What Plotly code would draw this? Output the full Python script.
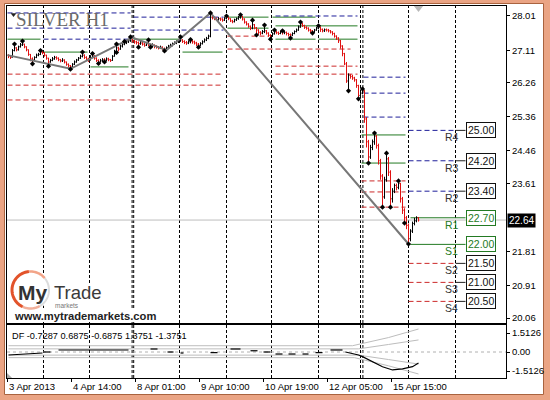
import math
import plotly.graph_objects as go

# ---------------- data ----------------
first_open = 26.98
closes = [
    26.96, 26.92, 27.10, 27.17, 27.12, 27.20, 27.25, 27.27, 27.20, 27.12,
    27.00, 26.88, 26.85, 26.92, 26.98, 27.00, 27.06, 27.04, 26.98, 26.90,
    26.80, 26.84, 26.88, 26.92, 26.90, 26.86, 26.83, 26.85, 26.80, 26.74,
    26.70, 26.67, 26.74, 26.80, 26.85, 26.90, 26.95, 26.98, 26.92, 26.88,
    26.85, 26.92, 26.96, 26.90, 26.84, 26.80, 26.83, 26.86, 26.85, 26.88,
    26.86, 26.84, 26.95, 27.08, 27.17, 27.14, 27.22, 27.27, 27.30, 27.33,
    27.36, 27.40, 27.35, 27.33, 27.31, 27.28, 27.30, 27.27, 27.24, 27.28,
    27.25, 27.22, 27.24, 27.21, 27.19, 27.17, 27.19, 27.15, 27.14, 27.18,
    27.22, 27.24, 27.28, 27.30, 27.33, 27.36, 27.38, 27.34, 27.31, 27.30,
    27.33, 27.35, 27.33, 27.30, 27.27, 27.24, 27.28, 27.33, 27.38, 27.42,
    27.48, 27.98, 27.96, 27.95, 27.92, 27.94, 27.93, 27.90, 27.95, 27.98,
    27.94, 27.88, 27.86, 27.91, 27.94, 27.98, 28.00, 27.93, 27.85, 27.80,
    27.74, 27.69, 27.78, 27.70, 27.64, 27.58, 27.56, 27.60, 27.62, 27.56,
    27.50, 27.48, 27.54, 27.59, 27.57, 27.55, 27.59, 27.57, 27.58, 27.55,
    27.52, 27.51, 27.55, 27.60, 27.64, 27.72, 27.80, 27.76, 27.71, 27.69,
    27.64, 27.62, 27.59, 27.64, 27.69, 27.72, 27.66, 27.62, 27.65, 27.64,
    27.62, 27.59, 27.55, 27.48, 27.43, 27.36, 27.22, 27.02, 26.75, 26.30,
    26.45, 26.42, 26.38, 26.33, 26.18, 25.92, 25.98, 26.04, 25.30, 24.70,
    24.30, 24.55, 24.70, 24.85, 24.60, 24.20, 23.80, 23.25, 23.70, 24.25,
    23.90, 23.20, 23.40, 23.55, 23.50, 23.60, 23.20, 22.90, 22.70, 22.50,
    22.15, 22.35, 22.55, 22.62, 22.70, 22.64,
]
highs = [
    27.00, 26.98, 27.14, 27.27, 27.19, 27.23, 27.30, 27.35, 27.28, 27.21,
    27.13, 27.01, 26.92, 26.95, 27.02, 27.04, 27.10, 27.09, 27.06, 26.99,
    26.91, 26.88, 26.93, 26.96, 26.95, 26.92, 26.88, 26.90, 26.87, 26.81,
    26.76, 26.72, 26.77, 26.84, 26.88, 26.93, 26.99, 27.06, 27.00, 26.95,
    26.91, 26.98, 27.02, 26.98, 26.92, 26.87, 26.88, 26.90, 26.90, 26.92,
    26.91, 26.88, 26.98, 27.12, 27.27, 27.20, 27.26, 27.31, 27.34, 27.38,
    27.41, 27.46, 27.42, 27.38, 27.36, 27.34, 27.35, 27.33, 27.30, 27.33,
    27.38, 27.28, 27.29, 27.26, 27.24, 27.22, 27.23, 27.21, 27.18, 27.21,
    27.25, 27.28, 27.31, 27.34, 27.37, 27.40, 27.46, 27.40, 27.37, 27.35,
    27.37, 27.39, 27.38, 27.36, 27.33, 27.30, 27.32, 27.37, 27.42, 27.46,
    27.52, 28.09, 28.02, 27.99, 27.97, 27.98, 27.97, 27.95, 27.98, 28.01,
    27.99, 27.95, 27.91, 27.94, 27.97, 28.01, 28.04, 28.01, 27.95, 27.87,
    27.82, 27.76, 27.90, 27.80, 27.72, 27.66, 27.61, 27.64, 27.77, 27.64,
    27.58, 27.53, 27.58, 27.64, 27.62, 27.60, 27.62, 27.62, 27.62, 27.60,
    27.57, 27.55, 27.58, 27.63, 27.68, 27.76, 27.85, 27.83, 27.78, 27.74,
    27.71, 27.67, 27.64, 27.67, 27.72, 27.75, 27.73, 27.68, 27.68, 27.68,
    27.67, 27.64, 27.61, 27.57, 27.50, 27.45, 27.38, 27.24, 27.04, 26.80,
    26.50, 26.48, 26.46, 26.41, 26.35, 26.20, 26.02, 26.09, 26.06, 25.35,
    24.75, 24.62, 24.76, 24.93, 24.88, 24.65, 24.25, 23.85, 23.78, 24.40,
    24.30, 23.95, 23.48, 23.60, 23.60, 23.67, 23.62, 23.25, 22.95, 22.75,
    22.55, 22.40, 22.60, 22.70, 22.74, 22.72,
]
lows = [
    26.90, 26.88, 26.92, 27.08, 27.08, 27.10, 27.18, 27.22, 27.16, 27.08,
    26.96, 26.82, 26.75, 26.84, 26.90, 26.95, 26.98, 27.00, 26.94, 26.86,
    26.69, 26.78, 26.82, 26.86, 26.86, 26.82, 26.79, 26.80, 26.76, 26.70,
    26.65, 26.61, 26.65, 26.72, 26.78, 26.83, 26.88, 26.92, 26.88, 26.84,
    26.80, 26.84, 26.90, 26.86, 26.80, 26.76, 26.78, 26.80, 26.80, 26.82,
    26.82, 26.80, 26.83, 26.94, 27.05, 27.08, 27.12, 27.18, 27.24, 27.27,
    27.30, 27.33, 27.31, 27.28, 27.26, 27.19, 27.25, 27.23, 27.20, 27.22,
    27.21, 27.19, 27.19, 27.16, 27.15, 27.13, 27.14, 27.11, 27.09, 27.12,
    27.15, 27.19, 27.21, 27.25, 27.27, 27.30, 27.33, 27.30, 27.27, 27.25,
    27.27, 27.29, 27.28, 27.26, 27.22, 27.19, 27.21, 27.26, 27.31, 27.35,
    27.40, 27.45, 27.92, 27.90, 27.88, 27.89, 27.88, 27.86, 27.88, 27.92,
    27.90, 27.85, 27.82, 27.84, 27.88, 27.91, 27.94, 27.89, 27.81, 27.76,
    27.70, 27.64, 27.66, 27.66, 27.51, 27.52, 27.50, 27.53, 27.56, 27.52,
    27.46, 27.40, 27.46, 27.52, 27.53, 27.51, 27.53, 27.52, 27.53, 27.50,
    27.47, 27.43, 27.48, 27.53, 27.58, 27.62, 27.70, 27.72, 27.67, 27.65,
    27.60, 27.56, 27.56, 27.57, 27.62, 27.66, 27.59, 27.58, 27.59, 27.60,
    27.58, 27.55, 27.50, 27.44, 27.38, 27.30, 27.15, 26.95, 26.72, 26.25,
    26.04, 26.36, 26.33, 26.28, 26.12, 25.83, 25.88, 25.95, 25.20, 24.55,
    24.14, 24.25, 24.48, 24.62, 24.52, 24.10, 23.70, 22.98, 23.20, 23.65,
    23.80, 22.98, 23.10, 23.35, 23.42, 23.45, 23.10, 22.80, 22.56, 22.40,
    22.01, 22.08, 22.30, 22.50, 22.58, 22.60,
]

fractal_bar = [3, 7, 16, 37, 42, 54, 58, 61, 70, 86, 91, 101, 109, 116, 122, 128, 133, 137, 146, 155,
               177, 183, 189, 195,
               12, 20, 31, 45, 48, 54, 65, 71, 78, 95, 124, 131, 141, 152, 170, 175, 180, 187, 191, 198, 200]
fractal_price = [27.27, 27.35, 27.10, 27.06, 27.02, 27.27, 27.34, 27.46, 27.38, 27.46, 27.39, 28.09, 28.01, 28.04, 27.90, 27.77, 27.64, 27.62, 27.85, 27.75,
                 26.09, 24.93, 24.40, 23.67,
                 26.75, 26.69, 26.61, 26.76, 26.80, 27.05, 27.19, 27.19, 27.09, 27.19, 27.51, 27.40, 27.43, 27.56, 26.04, 25.83, 24.14, 22.98, 22.98, 22.56, 22.01]

zigzag_bar = [-0.5, 31, 62, 79, 101, 200]
zigzag_price = [26.98, 26.62, 27.44, 27.11, 28.09, 22.01]

separators = [17.5, 40.5, 61.8, 62.6, 85.5, 109.0, 131.5, 155.0, 176.0, 177.2, 200.0, 223.5]

# pivot-level segments: kind (R = resistance, P = pivot, S = support), start bar, end bar, price
level_kind = ['R', 'R', 'R', 'P', 'P', 'P', 'S', 'S', 'S',
              'R', 'R', 'P', 'P',
              'P', 'P', 'S', 'S',
              'P', 'R', 'P', 'P', 'P', 'S', 'S',
              'R', 'R', 'R', 'P', 'P', 'S', 'S', 'S']
level_start = [-0.5, -0.5, 17.5, -0.5, 17.5, 41, -0.5, -0.5, -0.5,
               62.5, 62.5, 62.5, 87,
               109.5, 109.5, 109.5, 109.5,
               132, 133.5, 133.5, 133.5, 155, 133.5, 133.5,
               177.5, 177.5, 177.5, 176.5, 176.5, 176.5, 176.5, 176.5]
level_end = [61, 61, 61, 16, 39.5, 60, 106, 106, 61,
             107.5, 107.5, 86, 107,
             130, 130, 130, 171,
             153.5, 174.5, 174.5, 153.5, 174.5, 174.5, 174.5,
             198.5, 198.5, 198.5, 198.5, 198.5, 198.5, 198.5, 198.5]
level_price = [28.09, 27.69, 27.40, 27.40, 27.06, 26.67, 26.48, 26.19, 25.80,
               27.98, 27.64, 27.40, 27.06,
               27.98, 27.69, 27.48, 27.14,
               27.98, 28.01, 27.75, 27.40, 27.40, 26.69, 26.48,
               26.40, 25.98, 25.35, 24.88, 24.14, 23.67, 23.38, 22.98]

cur_levels = [25.00, 24.20, 23.40, 22.70, 22.00, 21.50, 21.00, 20.50]
cur_names = ['R4', 'R3', 'R2', 'R1', 'S1', 'S2', 'S3', 'S4']
cur_kind = ['R', 'R', 'R', 'P', 'P', 'S', 'S', 'S']
cur_start = 200
cur_end = 223.5
cur_box = 228.5

bid_price = 22.64
price_ticks = [28.01, 27.11, 26.26, 25.36, 24.46, 23.61, 21.81, 20.91, 20.06]
date_tick_bars = [-0.5, 31.5, 63.5, 95.5, 127.5, 159.5, 191.5]
date_labels = ['3 Apr 2013', '4 Apr 14:00', '8 Apr 01:00', '9 Apr 10:00',
               '10 Apr 19:00', '12 Apr 05:00', '15 Apr 15:00']

df_title = 'DF -0.7287 0.6875 -0.6875 1.3751 -1.3751'
df_ticks = [1.5126, 0.0, -1.5126]
df_bar = [0, 17, None, 17.5, 21, None, 25, 60, None, 71, 74.5, None, 79.5, 82.5, None,
          86, 87.5, None, 101, 104.5, None, 111, 116, None, 121, 124.5, None, 127.5, 131, None,
          133.5, 137, None, 140, 143.5, None, 147, 150, None, 153.5, 157, None, 161, 167, None,
          168.5, 172, 175, 177, 182, 187, 192, 197, 202, 205]
df_val = [-0.24, -0.08, None, 0, 0, None, 0.16, 0.16, None, 0.24, 0.24, None, 0, 0, None,
          -0.08, -0.08, None, -0.05, -0.05, None, 0.24, 0.24, None, 0.1, 0.1, None, 0, 0, None,
          -0.16, -0.16, None, -0.16, -0.16, None, -0.16, -0.16, None, -0.05, -0.05, None, 0.16, 0.16, None,
          0, -0.1, -0.24, -0.37, -0.77, -1.17, -1.43, -1.35, -1.17, -0.88]
band_bar_outer_up = [0, 172, 190, 205]
band_outer_up = [0.50, 0.50, 1.15, 1.83]
band_bar_inner_up = [0, 175, 190, 205]
band_inner_up = [0.25, 0.25, 0.60, 0.96]
band_bar_inner_dn = [0, 175, 190, 205]
band_inner_dn = [-0.25, -0.25, -0.60, -0.96]
band_bar_outer_dn = [0, 173, 190, 205]
band_outer_dn = [-0.45, -0.45, -1.10, -1.75]

# ---------------- layout geometry ----------------
W, H = 550, 400
ML, MR, MT, MB = 7, 44, 6, 22
PW, PH = W - ML - MR, H - MT - MB


def px(xp):
    return (xp - ML) / PW


def py(yp):
    return (H - MB - yp) / PH


FONT = 'Liberation Sans, Arial, sans-serif'
COL = {'R': '#1f1f9a', 'P': '#237a23', 'S': '#cc2a2a'}
DASH = {'R': '5px,3px', 'P': 'solid', 'S': '5px,3px'}

X_RANGE = [-0.75, 248.75]
Y_RANGE = [19.931, 28.273]
DF_RANGE = [-2.07, 2.15]

fig = go.Figure()

opens = [first_open] + closes[:-1]
bars = list(range(len(closes)))
hi = [max(h, o, c) for h, o, c in zip(highs, opens, closes)]
lo = [min(l, o, c) for l, o, c in zip(lows, opens, closes)]

fig.add_trace(go.Ohlc(x=bars, open=opens, high=hi, low=lo, close=closes,
                      increasing=dict(line=dict(color='black', width=1)),
                      decreasing=dict(line=dict(color='#e01010', width=1)),
                      tickwidth=0.45, hoverinfo='skip', showlegend=False,
                      xaxis='x', yaxis='y'))
fig.add_trace(go.Scatter(x=zigzag_bar, y=zigzag_price, mode='lines',
                         line=dict(color='#777777', width=2), hoverinfo='skip',
                         showlegend=False, xaxis='x', yaxis='y'))
fig.add_trace(go.Scatter(x=fractal_bar, y=fractal_price, mode='markers',
                         marker=dict(symbol='diamond', size=4, color='black'),
                         hoverinfo='skip', showlegend=False, xaxis='x', yaxis='y'))
# small chart-shift marker and corner marks
fig.add_trace(go.Scatter(x=[205], y=[28.22], mode='markers',
                         marker=dict(symbol='triangle-down', size=8, color='#b8b8b8'),
                         hoverinfo='skip', showlegend=False, xaxis='x', yaxis='y', cliponaxis=False))
fig.add_trace(go.Scatter(x=[2.5], y=[28.05], mode='markers',
                         marker=dict(symbol='triangle-down', size=5, color='#222'),
                         hoverinfo='skip', showlegend=False, xaxis='x', yaxis='y'))

# indicator panel
for bx, bv in [(band_bar_outer_up, band_outer_up), (band_bar_inner_up, band_inner_up),
               (band_bar_inner_dn, band_inner_dn), (band_bar_outer_dn, band_outer_dn)]:
    fig.add_trace(go.Scatter(x=bx, y=bv, mode='lines', line=dict(color='#bdbdbd', width=1),
                             hoverinfo='skip', showlegend=False, xaxis='x2', yaxis='y2'))
fig.add_trace(go.Scatter(x=df_bar, y=df_val, mode='lines', line=dict(color='black', width=1.2),
                         connectgaps=False, hoverinfo='skip', showlegend=False,
                         xaxis='x2', yaxis='y2'))
fig.add_trace(go.Scatter(x=[-0.2], y=[-1.92], mode='markers',
                         marker=dict(symbol='triangle-sw', size=7, color='#aaaaaa'),
                         hoverinfo='skip', showlegend=False, xaxis='x2', yaxis='y2'))

shapes = []
# outer frame
shapes.append(dict(type='rect', xref='paper', yref='paper', x0=px(4.5), x1=px(543.5),
                   y0=py(394.5), y1=py(3.5), fillcolor='white',
                   line=dict(color='#a9633f', width=1), layer='below'))
# day separators
for s in separators:
    shapes.append(dict(type='line', xref='x', yref='paper', x0=s, x1=s, y0=0, y1=1,
                       line=dict(color='black', width=1, dash='3px,2px'), layer='below'))
# pivot levels of previous days
for k, a, b, p in zip(level_kind, level_start, level_end, level_price):
    shapes.append(dict(type='line', xref='x', yref='y', x0=a, x1=b, y0=p, y1=p,
                       line=dict(color=COL[k], width=1, dash=DASH[k]), layer='below'))
# current day levels
for k, p in zip(cur_kind, cur_levels):
    if k == 'P':
        shapes.append(dict(type='line', xref='x', yref='y', x0=cur_start + 1, x1=cur_box, y0=p, y1=p,
                           line=dict(color=COL[k], width=1), layer='below'))
    else:
        shapes.append(dict(type='line', xref='x', yref='y', x0=cur_start, x1=cur_end, y0=p, y1=p,
                           line=dict(color=COL[k], width=1, dash=DASH[k]), layer='below'))
        shapes.append(dict(type='line', xref='x', yref='y', x0=cur_end, x1=cur_box, y0=p, y1=p,
                           line=dict(color='#222', width=1), layer='below'))
# bid line
shapes.append(dict(type='line', xref='x', yref='y', x0=X_RANGE[0], x1=X_RANGE[1],
                   y0=bid_price, y1=bid_price, line=dict(color='#bdbdbd', width=1), layer='below'))
# DF zero line
shapes.append(dict(type='line', xref='x2', yref='y2', x0=X_RANGE[0], x1=X_RANGE[1],
                   y0=0, y1=0, line=dict(color='#b0b0b0', width=1, dash='3px,3px'), layer='below'))

# logo masks and ring
cx, cy, r = 30.5, 290.0, 18.5


def arc(a0, a1, rr, n=40):
    pts = []
    for j in range(n + 1):
        a = math.radians(a0 + (a1 - a0) * j / n)
        pts.append((px(cx + rr * math.cos(a)), py(cy - rr * math.sin(a))))
    return 'M ' + ' L '.join(f'{x:.5f},{y:.5f}' for x, y in pts)


def disc(rr, n=48):
    return arc(0, 360, rr, n) + ' Z'


shapes.append(dict(type='path', xref='paper', yref='paper', path=disc(r + 2),
                   fillcolor='white', line=dict(width=0), layer='below'))
shapes.append(dict(type='rect', xref='paper', yref='paper', x0=px(50), x1=px(104),
                   y0=py(309), y1=py(283), fillcolor='white', line=dict(width=0), layer='below'))
shapes.append(dict(type='rect', xref='paper', yref='paper', x0=px(10), x1=px(160),
                   y0=py(322), y1=py(309), fillcolor='white', line=dict(width=0), layer='below'))
shapes.append(dict(type='path', xref='paper', yref='paper', path=arc(300, 400, r),
                   line=dict(color='#dcdcdc', width=2)))
shapes.append(dict(type='path', xref='paper', yref='paper', path=arc(40, 95, r),
                   line=dict(color='#f2a488', width=2.5)))
shapes.append(dict(type='path', xref='paper', yref='paper', path=arc(245, 300, r),
                   line=dict(color='#f2b09a', width=2.5)))
shapes.append(dict(type='path', xref='paper', yref='paper', path=arc(95, 245, r),
                   line=dict(color='#e2532a', width=3)))

ann = []
ann.append(dict(text='SILVER H1', xref='paper', yref='paper', x=px(14), y=py(20),
                xanchor='left', yanchor='middle', showarrow=False,
                font=dict(family='Liberation Serif, Times New Roman, serif', size=19, color='#6a6a6a')))
ann.append(dict(text=f'{bid_price:.2f}', xref='paper', yref='y', x=1.0, y=bid_price,
                xanchor='left', yanchor='middle', showarrow=False, bgcolor='black',
                borderpad=1, xshift=1, font=dict(family=FONT, size=10, color='white')))
for name, k, p in zip(cur_names, cur_kind, cur_levels):
    c = COL['P'] if k == 'P' else '#111'
    ann.append(dict(text=f'{p:.2f}', xref='x', yref='y', x=cur_box, y=p, xanchor='left',
                    yanchor='middle', showarrow=False, bgcolor='white', bordercolor=c,
                    borderwidth=1, borderpad=1, font=dict(family=FONT, size=10.5, color=c)))
    nc = COL['P'] if k == 'P' else '#333'
    ann.append(dict(text=name, xref='x', yref='y', x=cur_end - 2, y=p, xanchor='center',
                    yanchor='middle', yshift=-7, showarrow=False,
                    font=dict(family=FONT, size=10.5, color=nc)))
for b, t in zip(date_tick_bars, date_labels):
    ann.append(dict(text=t, xref='x2', yref='paper', x=b, y=py(386), xanchor='left',
                    yanchor='middle', showarrow=False, xshift=-1,
                    font=dict(family=FONT, size=9.5, color='black')))
ann.append(dict(text=df_title, xref='paper', yref='paper', x=px(10), y=py(336),
                xanchor='left', yanchor='middle', showarrow=False,
                font=dict(family=FONT, size=9.2, color='black')))
# logo texts
ann.append(dict(text='<b>My</b>', xref='paper', yref='paper', x=px(16), y=py(292),
                xanchor='left', yanchor='middle', showarrow=False,
                font=dict(family=FONT, size=21, color='#333333')))
ann.append(dict(text='Trade', xref='paper', yref='paper', x=px(52), y=py(292),
                xanchor='left', yanchor='middle', showarrow=False,
                font=dict(family=FONT, size=18.5, color='#3a3a3a')))
ann.append(dict(text='markets', xref='paper', yref='paper', x=px(53), y=py(305),
                xanchor='left', yanchor='middle', showarrow=False,
                font=dict(family=FONT, size=6.5, color='#777777')))
ann.append(dict(text='<b>www.mytrademarkets.com</b>', xref='paper', yref='paper', x=px(12), y=py(316),
                xanchor='left', yanchor='middle', showarrow=False,
                font=dict(family=FONT, size=11.2, color='#222222')))

axis_common = dict(showgrid=False, zeroline=False, showline=True, mirror=True,
                   linecolor='black', linewidth=1, fixedrange=True)

fig.update_layout(
    width=W, height=H,
    margin=dict(l=ML, r=MR, t=MT, b=MB, pad=0, autoexpand=False),
    paper_bgcolor='#eaa484', plot_bgcolor='rgba(0,0,0,0)',
    showlegend=False,
    xaxis=dict(domain=[0, 1], range=X_RANGE, anchor='y', showticklabels=False, ticks='',
               rangeslider=dict(visible=False), **axis_common),
    yaxis=dict(domain=[py(323), 1], range=Y_RANGE, anchor='x', side='right',
               tickmode='array', tickvals=price_ticks, ticktext=[f'{v:.2f}' for v in price_ticks],
               ticks='outside', ticklen=3, tickcolor='black',
               tickfont=dict(family=FONT, size=9.5, color='black'), **axis_common),
    xaxis2=dict(domain=[0, 1], range=X_RANGE, anchor='y2', tickmode='array',
                tickvals=date_tick_bars, ticks='outside', ticklen=3, tickcolor='black',
                showticklabels=False, **axis_common),
    yaxis2=dict(domain=[0, py(325)], range=DF_RANGE, anchor='x2', side='right',
                tickmode='array', tickvals=df_ticks, ticktext=['1.5126', '0.00', '-1.5126'],
                ticks='outside', ticklen=3, tickcolor='black',
                tickfont=dict(family=FONT, size=9.5, color='black'), **axis_common),
    shapes=shapes,
    annotations=ann,
)

fig.write_html('out.html', config={'displayModeBar': False},
               post_script="document.body.style.margin='0px';document.body.style.overflow='hidden';")
